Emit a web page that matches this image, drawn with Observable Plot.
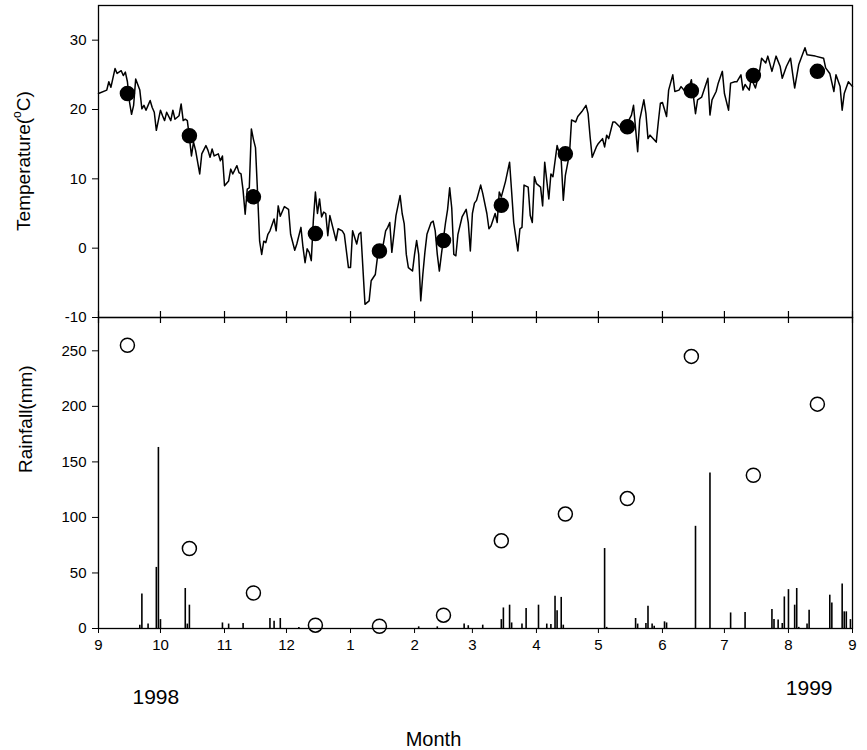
<!DOCTYPE html>
<html><head><meta charset="utf-8">
<script src="https://cdn.jsdelivr.net/npm/d3@7"></script>
<script src="https://cdn.jsdelivr.net/npm/@observablehq/plot@0.6"></script>
<style>
body{margin:0;background:#fff;}
#chart{position:relative;width:867px;height:750px;background:#fff;font-family:"Liberation Sans",Arial,sans-serif;}
#top{position:absolute;left:0;top:0;}
#bottom{position:absolute;left:0;top:317px;}
</style></head><body>
<div id="chart"><div id="top"></div><div id="bottom"></div></div>
<script>
// ---- data ----
const startDate = "1998-09-01";
const monthTicks = ["1998-09-01","1998-10-01","1998-11-01","1998-12-01","1999-01-01","1999-02-01","1999-03-01","1999-04-01","1999-05-01","1999-06-01","1999-07-01","1999-08-01","1999-09-01"];
const monthLabels = ["9","10","11","12","1","2","3","4","5","6","7","8","9"];
const tempTicks = [-10, 0, 10, 20, 30];
const rainTicks = [0, 50, 100, 150, 200, 250];

// daily air temperature (days after 1 Sep 1998, deg C)
const tempDays = [0,4,5,6,8,9,11,12,13,14,15,16,17,18,20,21,22,23,24,25,26,27,28,30,31,32,33,35,36,37,39,40,41,42,43,44,45,46,47,49,50,52,53,54,55,56,58,59,60,61,63,64,65,67,68,69,70,71,72,73,74,75,76,77,78,79,80,81,82,83,85,86,87,88,90,92,93,95,96,98,99,100,101,102,103,104,105,106,107,108,109,110,111,112,115,116,118,119,121,122,123,125,126,127,129,131,132,134,135,137,139,140,141,142,143,144,146,147,148,149,150,152,153,154,155,156,157,158,159,161,162,163,164,165,166,168,169,170,171,172,173,174,176,178,179,180,181,182,183,185,186,188,189,190,192,193,194,195,197,199,200,201,203,204,205,206,208,209,210,211,212,214,215,216,218,219,220,222,224,225,226,228,229,231,232,234,236,237,238,239,241,242,244,245,246,247,249,250,253,255,258,259,261,262,264,265,266,267,270,271,272,273,275,276,278,279,281,282,284,286,287,289,290,292,295,296,297,299,300,302,303,305,306,308,309,311,312,313,315,316,318,320,321,323,324,326,328,330,331,333,335,336,337,339,342,343,347,351,352,354,356,357,359,360,361,363,365];
const tempValues = [22.3,22.8,24.0,23.2,25.9,25.2,25.6,24.9,25.4,24.0,21.1,19.3,20.6,24.4,22.8,20.1,20.6,19.9,20.6,21.3,20.3,19.6,17.0,19.9,19.1,18.4,19.6,18.4,19.9,18.6,19.1,20.8,18.4,18.6,18.4,16.0,13.3,15.3,14.1,10.7,13.6,14.8,14.1,13.1,14.3,13.3,13.6,12.6,13.3,9.0,9.7,11.4,10.7,11.9,10.9,10.7,8.3,4.9,8.5,8.7,17.2,15.7,14.5,8.0,1.0,-0.9,1.0,0.8,2.0,2.5,4.2,2.5,6.1,4.6,6.0,5.6,2.0,-0.3,0.6,3.0,0.1,-2.1,-0.1,-0.6,-1.8,4.0,8.1,5.0,7.1,4.5,5.2,5.0,1.8,4.7,1.1,2.8,2.5,2.0,-2.8,-2.8,2.5,0.6,2.0,2.3,-8.1,-7.6,-4.7,-3.8,-1.4,-0.9,2.5,3.0,3.7,-0.6,2.0,4.7,7.6,5.0,3.5,-0.9,-2.8,-3.3,-0.9,1.1,-0.9,-7.6,-3.8,-0.6,2.0,3.7,3.9,2.5,-0.9,-3.3,-0.9,3.7,5.6,8.7,5.8,-0.9,-1.1,2.0,4.5,5.6,3.7,-0.4,5.0,6.5,6.9,9.1,7.9,5.0,2.8,3.2,5.0,3.7,8.1,7.4,9.6,12.4,8.1,3.7,-0.4,2.8,3.0,9.1,8.8,4.7,3.7,10.3,9.3,8.8,6.1,12.4,7.1,10.7,10.3,14.8,12.7,6.9,10.5,13.6,18.5,18.2,19.0,19.7,20.6,19.4,16.0,13.1,14.6,15.1,15.8,14.6,16.3,15.8,18.2,18.2,17.3,17.5,19.2,20.6,13.9,18.5,21.4,19.4,15.8,16.3,15.3,18.2,20.9,21.0,19.0,22.8,25.0,22.6,22.8,23.3,22.6,23.3,24.3,19.4,21.4,21.8,24.5,19.2,21.4,22.6,23.8,25.5,22.3,19.9,23.8,24.0,24.0,25.0,22.8,23.6,22.8,24.5,23.1,25.5,27.4,26.7,27.7,25.5,27.7,26.2,24.5,26.2,27.4,25.2,23.1,26.5,28.9,27.9,27.7,27.4,26.0,25.2,22.6,25.0,23.3,19.9,22.3,24.0,23.3];

// monthly mean temperature (plotted mid-month)
const monthMidDates = ["1998-09-15","1998-10-15","1998-11-15","1998-12-15","1999-01-15","1999-02-15","1999-03-15","1999-04-15","1999-05-15","1999-06-15","1999-07-15","1999-08-15"];
const monthMeanTemp = [22.3, 16.2, 7.4, 2.1, -0.4, 1.1, 6.2, 13.6, 17.5, 22.7, 24.9, 25.5];

// daily rainfall (days after 1 Sep 1998, mm)
const rainDays = [20,21,24,28,29,30,42,43,44,60,63,70,83,85,88,97,155,164,177,179,186,195,196,199,200,205,207,213,217,219,221,222,224,225,245,246,260,261,265,266,268,269,274,275,289,296,306,313,326,327,329,331,332,334,337,338,339,343,344,354,355,360,361,362,364];
const rainValues = [3,31,4,55,163,8,36,4,21,5,4,4.5,9,6.6,9,1,1.5,1.5,4,2.5,3,8,18.5,21,5,4,18,21,4,3.5,29,16,28,3,72,1,9,4,4.5,20,4,2,6,5,92,140,14,14.5,17,8,7.6,4.5,28.4,35,21,36,1,4,16.4,30,23,40,15,15,8];

// monthly rainfall totals (plotted mid-month)
const monthRain = [255, 72, 32, 3, 2, 12, 79, 103, 117, 245, 138, 202];

// ---- build ----
const day0 = new Date(startDate);
const dayToDate = d => new Date(day0.getTime() + d * 864e5);
const tickDates = monthTicks.map(s => new Date(s));
const labelByTime = new Map(tickDates.map((d, i) => [d.getTime(), monthLabels[i]]));
const xDomain = [tickDates[0], tickDates[tickDates.length - 1]];

const tempSeries = tempDays.map((d, i) => ({date: dayToDate(d), t: tempValues[i]}));
const tempMeans = monthMidDates.map((s, i) => ({date: new Date(s), t: monthMeanTemp[i]}));
const rainSeries = rainDays.map((d, i) => ({date: dayToDate(d), r: rainValues[i]}));
const rainTotals = monthMidDates.map((s, i) => ({date: new Date(s), r: monthRain[i]}));

const font = '"Liberation Sans", Arial, sans-serif';
const common = {
  width: 867, marginLeft: 98, marginRight: 15,
  style: {fontFamily: font, fontSize: "15px", color: "#000", background: "transparent", overflow: "visible"}
};
const plainNum = d => String(d);

const topPlot = Plot.plot({
  ...common,
  height: 317, marginTop: 5, marginBottom: 0,
  x: {type: "utc", domain: xDomain, axis: null},
  y: {domain: [-10, 35]},
  marks: [
    Plot.line(tempSeries, {x: "date", y: "t", stroke: "#000", strokeWidth: 1.5}),
    Plot.dot(tempMeans, {x: "date", y: "t", r: 7, fill: "#000", stroke: "#000"}),
    Plot.tickX(tickDates, {x: d => d, insetTop: 306, stroke: "#000", strokeWidth: 1.2}),
    Plot.axisY({ticks: tempTicks, tickFormat: plainNum, tickSize: 6, tickPadding: 6, label: null, fontSize: 15}),
    Plot.frame({stroke: "#000", strokeWidth: 1.3})
  ]
});

const bottomPlot = Plot.plot({
  ...common,
  height: 433, marginTop: 0, marginBottom: 122,
  x: {type: "utc", domain: xDomain},
  y: {domain: [0, 280]},
  marks: [
    Plot.ruleX(rainSeries, {x: "date", y1: 0, y2: "r", stroke: "#000", strokeWidth: 1.6}),
    Plot.dot(rainTotals, {x: "date", y: "r", r: 7, fill: "#fff", stroke: "#000", strokeWidth: 1.5}),
    Plot.tickX(tickDates, {x: d => d, insetBottom: 305, stroke: "#000", strokeWidth: 1.2}),
    Plot.axisY({ticks: rainTicks, tickFormat: plainNum, tickSize: 6, tickPadding: 6, label: null, fontSize: 15}),
    Plot.axisX({ticks: tickDates, tickFormat: d => labelByTime.get(d.getTime()), tickSize: 5, tickPadding: 6, label: null, fontSize: 15}),
    Plot.frame({stroke: "#000", strokeWidth: 1.3}),
    Plot.text(["Rainfall(mm)"], {frameAnchor: "left", dx: -73, rotate: -90, fontSize: 19}),
    Plot.text(["1998"], {frameAnchor: "bottom-left", dx: 34, dy: 75, fontSize: 21}),
    Plot.text(["1999"], {frameAnchor: "bottom-right", dx: -20, dy: 66, fontSize: 21}),
    Plot.text(["Month"], {frameAnchor: "bottom", dx: -42, dy: 117, fontSize: 20})
  ]
});

// y title with superscript in the top panel
const tt = d3.select(topPlot).append("text")
  .attr("transform", "translate(25,161) rotate(-90)")
  .attr("text-anchor", "middle")
  .attr("dominant-baseline", "middle")
  .attr("font-family", font)
  .attr("font-size", 19)
  .attr("fill", "#000");
tt.append("tspan").text("Temperature(");
tt.append("tspan").attr("font-size", 12).attr("dy", -7).text("o");
tt.append("tspan").attr("dy", 7).text("C)");

document.getElementById("top").appendChild(topPlot);
document.getElementById("bottom").appendChild(bottomPlot);
</script>
</body></html>
